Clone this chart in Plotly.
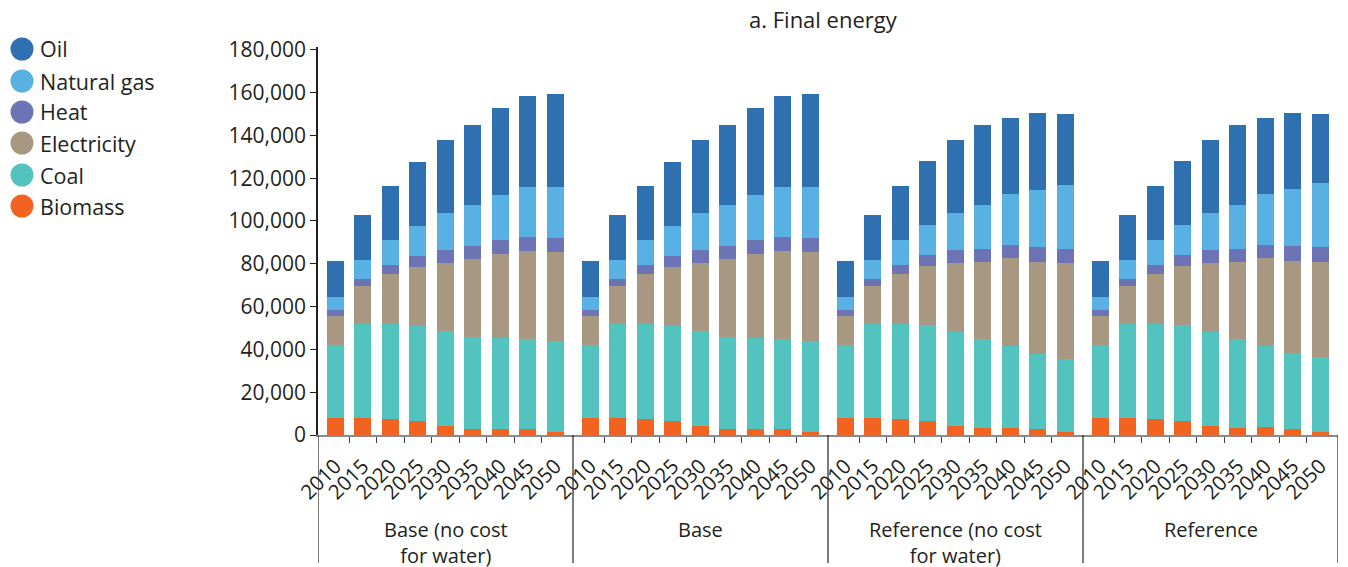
import plotly.graph_objects as go

scenarios = ["Base (no cost|for water)", "Base", "Reference (no cost|for water)", "Reference"]
years = ["2010", "2015", "2020", "2025", "2030", "2035", "2040", "2045", "2050"]
y_ticks = [0, 20000, 40000, 60000, 80000, 100000, 120000, 140000, 160000, 180000]

# values in thousands, per scenario (9 years each)
biomass = [
    [8.0, 8.0, 7.5, 6.5, 4.2, 2.8, 2.8, 2.8, 1.4],
    [8.0, 8.0, 7.5, 6.5, 4.2, 2.8, 2.8, 2.8, 1.4],
    [8.0, 8.0, 7.5, 6.5, 4.2, 3.3, 3.3, 2.8, 1.4],
    [8.0, 8.0, 7.5, 6.5, 4.2, 3.3, 3.7, 2.8, 1.4],
]
coal = [
    [34.1, 43.9, 44.4, 44.5, 44.5, 43.0, 42.6, 42.1, 42.6],
    [34.1, 43.9, 44.4, 44.5, 44.5, 43.0, 42.6, 42.1, 42.6],
    [34.1, 43.9, 44.4, 45.0, 44.0, 41.6, 38.3, 35.1, 34.2],
    [34.1, 43.9, 44.4, 45.0, 44.0, 41.6, 37.9, 35.6, 35.1],
]
electricity = [
    [13.6, 17.8, 23.4, 27.6, 31.8, 36.5, 39.3, 41.2, 41.6],
    [13.6, 17.8, 23.4, 27.6, 31.8, 36.5, 39.3, 41.2, 41.6],
    [13.6, 17.8, 23.4, 27.6, 32.3, 36.0, 41.2, 43.0, 44.9],
    [13.6, 17.8, 23.4, 27.6, 32.3, 36.0, 41.2, 43.0, 44.4],
]
heat = [
    [2.8, 3.3, 4.2, 5.1, 6.0, 6.1, 6.5, 6.5, 6.6],
    [2.8, 3.3, 4.2, 5.1, 6.0, 6.1, 6.5, 6.5, 6.6],
    [2.8, 3.3, 4.2, 5.1, 6.0, 6.1, 6.1, 7.1, 6.5],
    [2.8, 3.3, 4.2, 5.1, 6.0, 6.1, 6.1, 7.0, 7.1],
]
natural_gas = [
    [6.1, 8.9, 11.7, 14.1, 17.4, 19.2, 21.1, 23.4, 23.8],
    [6.1, 8.9, 11.7, 14.1, 17.4, 19.2, 21.1, 23.4, 23.8],
    [6.1, 8.9, 11.7, 14.0, 17.4, 20.6, 23.8, 26.6, 30.0],
    [6.1, 8.9, 11.7, 14.0, 17.4, 20.6, 23.8, 26.7, 29.9],
]
oil = [
    [16.8, 21.0, 25.3, 29.9, 34.1, 37.4, 40.7, 42.6, 43.5],
    [16.8, 21.0, 25.3, 29.9, 34.1, 37.4, 40.7, 42.6, 43.5],
    [16.8, 21.0, 25.3, 30.0, 34.1, 37.4, 35.6, 36.0, 33.2],
    [16.8, 21.0, 25.3, 30.0, 34.1, 37.4, 35.6, 35.5, 32.3],
]

series_names = ["Biomass", "Coal", "Electricity", "Heat", "Natural gas", "Oil"]
series_values = [biomass, coal, electricity, heat, natural_gas, oil]
colors = ["#f26322", "#52c3bf", "#a89882", "#6c74b6", "#58b0e3", "#2f70b1"]

FONT = "Open Sans"
TXT = "#231f20"

# category layout on a numeric axis: each scenario block is slightly wider than 9 slots
GROUP_W = 9.27
LEAD = 0.63
n_g, n_y = len(scenarios), len(years)
x_pos = [g * GROUP_W + LEAD + j for g in range(n_g) for j in range(n_y)]
x_text = [y for _ in range(n_g) for y in years]
inner_bounds = [g * GROUP_W + LEAD + j + 0.5 for g in range(n_g) for j in range(n_y - 1)]
group_bounds = [g * GROUP_W for g in range(n_g + 1)]
group_centers = [g * GROUP_W + GROUP_W / 2 for g in range(n_g)]

fig = go.Figure()
for name, vals, col in zip(series_names, series_values, colors):
    flat = [v * 1000 for row in vals for v in row]
    fig.add_trace(go.Bar(x=x_pos, y=flat, name=name, width=0.62,
                         marker=dict(color=col, line=dict(width=0)),
                         showlegend=False))

W, H = 1348, 567
L, R, T, B = 318, 10, 47, 132
pw, ph = W - L - R, H - T - B

def px_x(sx):
    return (sx - L) / pw

def px_y(sy):
    return (H - B - sy) / ph

shapes = []
annotations = []

# manual legend with circles
legend_names = ["Oil", "Natural gas", "Heat", "Electricity", "Coal", "Biomass"]
legend_colors = ["#2f70b1", "#58b0e3", "#6c74b6", "#a89882", "#52c3bf", "#f26322"]
legend_y = [49, 81, 112, 143, 175, 206]
for nm, col, ly in zip(legend_names, legend_colors, legend_y):
    shapes.append(dict(type="circle", xref="paper", yref="paper",
                       xsizemode="pixel", ysizemode="pixel",
                       xanchor=px_x(22), yanchor=px_y(ly),
                       x0=-11.5, x1=11.5, y0=-11.5, y1=11.5,
                       fillcolor=col, line=dict(width=0)))
    annotations.append(dict(text=nm, xref="paper", yref="paper",
                            x=px_x(38), y=px_y(ly), xanchor="left", yanchor="middle",
                            showarrow=False, font=dict(family=FONT, size=21.5, color=TXT)))

annotations.append(dict(text="a. Final energy", xref="paper", yref="paper",
                        x=px_x(823), y=px_y(19), xanchor="center", yanchor="middle",
                        showarrow=False, font=dict(family=FONT, size=22, color=TXT)))

# scenario dividers and labels
for b in group_bounds:
    shapes.append(dict(type="line", xref="x", yref="paper", x0=b, x1=b,
                       y0=0, y1=px_y(563), line=dict(color="#333", width=1.3)))
for name, cx in zip(scenarios, group_centers):
    annotations.append(dict(text=name.replace("|", "<br>"), xref="x", yref="paper", x=cx,
                            y=px_y(514), xanchor="center", yanchor="top",
                            showarrow=False, font=dict(family=FONT, size=20, color=TXT)))

fig.update_layout(
    width=W, height=H,
    margin=dict(l=L, r=R, t=T, b=B),
    barmode="stack",
    plot_bgcolor="white", paper_bgcolor="white",
    font=dict(family=FONT, size=21, color=TXT),
    shapes=shapes,
    annotations=annotations,
    xaxis=dict(range=[0, n_g * GROUP_W], tickmode="array", tickvals=x_pos, ticktext=x_text,
               tickangle=-45, ticks="", ticklabelstandoff=9,
               minor=dict(tickmode="array", tickvals=inner_bounds, ticks="outside",
                          ticklen=6, tickcolor="#444", tickwidth=1.3, showgrid=False),
               showline=True, linecolor="#8a8a8a", linewidth=2,
               tickfont=dict(family=FONT, size=20.5, color=TXT), showgrid=False,
               zeroline=False, automargin=False),
    yaxis=dict(range=[0, 181300], tickvals=y_ticks, tickformat=",d",
               ticks="outside", ticklen=6, tickcolor="#231f20",
               showline=True, linecolor="#231f20", linewidth=1.5,
               showgrid=False, zeroline=False, automargin=False,
               tickfont=dict(family=FONT, size=21, color=TXT)),
)

# remove the browser's default 8px body margin so the figure fills the window exactly
fig.write_html("out.html", config={"displayModeBar": False},
               post_script="document.body.style.margin='0';document.body.style.overflow='hidden';")
